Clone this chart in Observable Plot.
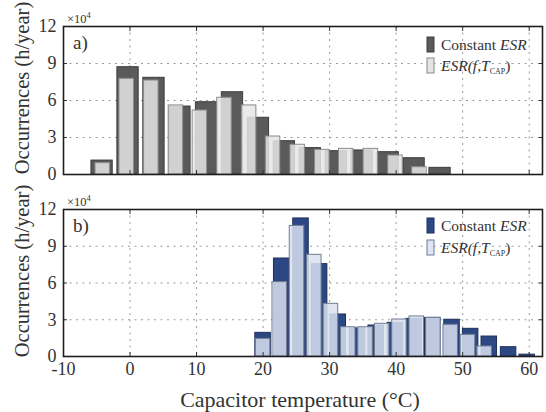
<!DOCTYPE html>
<html><head><meta charset="utf-8">
<script src="https://cdn.jsdelivr.net/npm/d3@7"></script>
<script src="https://cdn.jsdelivr.net/npm/@observablehq/plot@0.6"></script>
<style>
body{margin:0;background:#fff;}
#wrap{position:relative;width:546px;height:412px;overflow:hidden;font-family:"Liberation Serif","Times New Roman",serif;}
#wrap svg{position:absolute;left:0;}
</style></head><body><div id="wrap"></div>
<script>
// Axis ticks
const xTicks = [-10, 0, 10, 20, 30, 40, 50, 60];
const yTicks = [0, 3, 6, 9, 12];
const yGrid = [3, 6, 9];

// Panel a) — bin centres (°C) and occurrences (×10^4 h/year)
const aConstCenters = [-4.2, -0.3, 3.6, 7.5, 11.5, 15.4, 19.3, 23.2, 27.1, 31.0, 34.9, 38.8, 42.7, 46.6];
const aConstValues  = [1.13, 8.7, 7.84, 5.51, 5.86, 6.67, 4.6, 2.7, 2.14, 1.89, 1.95, 1.81, 1.32, 0.54];
const aVarCenters   = [-4.1, -0.5, 3.2, 6.9, 10.5, 14.2, 17.9, 21.5, 25.2, 28.9, 32.5, 36.2, 39.9, 43.5];
const aVarValues    = [0.92, 7.76, 7.62, 5.6, 5.19, 6.22, 5.6, 3.08, 2.41, 2.0, 2.08, 2.08, 1.54, 0.59];

// Panel b)
const bConstCenters = [20.0, 22.8, 25.7, 28.5, 31.3, 34.2, 37.0, 39.9, 42.7, 45.5, 48.4, 51.2, 54.0, 56.9, 59.7];
const bConstValues  = [1.93, 8.0, 11.27, 7.54, 3.43, 2.3, 2.53, 2.75, 3.07, 3.15, 3.0, 2.26, 1.63, 0.76, 0.15];
const bVarCenters   = [20.0, 22.5, 25.1, 27.7, 30.2, 32.8, 35.4, 37.9, 40.5, 43.1, 45.6, 48.2, 50.8, 53.3];
const bVarValues    = [1.44, 6.07, 10.66, 8.3, 4.3, 2.39, 2.39, 2.67, 3.02, 3.27, 3.16, 2.59, 1.77, 0.82];

const legendLabels = ["Constant ", "ESR", "ESR(f,T", "CAP", ")"];
const xTitle = "Capacitor temperature (°C)";
const yTitle = "Occurrences (h/year)";

const FONT = '"Liberation Serif","Times New Roman",serif';
const wrap = document.getElementById("wrap");

function panel(o) {
  const dark = o.constC.map((c, i) => ({c, v: o.constV[i]}));
  const light = o.varC.map((c, i) => ({c, v: o.varV[i]}));
  const gridStyle = {stroke: "#9a9a9a", strokeOpacity: 1, strokeWidth: 1, strokeDasharray: "2,4.5"};
  const marks = [
    Plot.gridX(xTicks.slice(1), gridStyle),
    Plot.gridY(yGrid, gridStyle),
    Plot.rectY(dark, {x1: d => d.c - o.constW / 2, x2: d => d.c + o.constW / 2, y: "v",
      fill: o.darkFill, stroke: o.darkStroke, strokeWidth: 1}),
    Plot.rectY(light, {x1: d => d.c - o.varW / 2, x2: d => d.c + o.varW / 2, y: "v",
      fill: o.lightFill, fillOpacity: 0.85, stroke: o.lightStroke, strokeWidth: 1}),
    Plot.axisY(yTicks, {anchor: "left", tickSize: 0, tickPadding: 7, fontSize: 18, label: null, fill: "#333", tickFormat: d => String(d)}),
    Plot.axisY(yGrid, {anchor: "left", tickSize: -4, tickFormat: () => "", label: null, stroke: "#333"}),
    Plot.axisY(yGrid, {anchor: "right", tickSize: -4, tickFormat: () => "", label: null, stroke: "#333"}),
    Plot.axisX(xTicks.slice(1), {anchor: "top", tickSize: -4, tickFormat: () => "", label: null, stroke: "#333"}),
    Plot.axisX(xTicks.slice(1), {anchor: "bottom", tickSize: -4, tickFormat: () => "", label: null, stroke: "#333"}),
  ];
  if (o.showX) marks.push(Plot.axisX(xTicks, {anchor: "bottom", tickSize: 0, tickPadding: 6, fontSize: 18, label: null, fill: "#333", tickFormat: d => String(d)}));
  marks.push(Plot.frame({stroke: "#1e1e1e", strokeWidth: 1.6}));
  const svg = Plot.plot({
    width: 546, height: o.height,
    marginTop: o.marginTop, marginBottom: o.marginBottom, marginLeft: 63, marginRight: 4,
    x: {domain: [-10, 62]},
    y: {domain: [0, 12]},
    style: {fontFamily: FONT, fontSize: "18px", color: "#333", background: "transparent", overflow: "visible"},
    marks
  });
  svg.style.top = o.top + "px";
  wrap.appendChild(svg);
}

panel({constC: aConstCenters, constV: aConstValues, varC: aVarCenters, varV: aVarValues,
  constW: 3.2, varW: 2.18, darkFill: "#5a5a5a", darkStroke: "#3c3c3c", lightFill: "#e6e6e6", lightStroke: "#8a8a8a",
  height: 190, marginTop: 26, marginBottom: 16, top: 0, showX: false});
panel({constC: bConstCenters, constV: bConstValues, varC: bVarCenters, varV: bVarValues,
  constW: 2.33, varW: 2.18, darkFill: "#2c4884", darkStroke: "#1d2f5a", lightFill: "#d9e2f0", lightStroke: "#6f7d92",
  height: 222, marginTop: 19, marginBottom: 56, top: 190, showX: true});

// Overlay text (titles, labels, legends)
const ov = d3.select(wrap).append("svg").attr("width", 546).attr("height", 412)
  .style("top", "0px").style("font-family", FONT).style("fill", "#333");

function panelText(top, label, sw1, sw2, darkFill, darkStroke, lightFill, lightStroke) {
  // ×10^4
  const t = ov.append("text").attr("x", 67).attr("y", top - 2.7).attr("font-size", 12.5);
  t.append("tspan").text("×10");
  t.append("tspan").attr("font-size", 8.5).attr("dy", -5.5).text("4");
  ov.append("text").attr("x", 73).attr("y", top + 23).attr("font-size", 19).text(label);
  // legend
  ov.append("rect").attr("x", 427).attr("y", top + sw1).attr("width", 7).attr("height", 15)
    .attr("fill", darkFill).attr("stroke", darkStroke);
  ov.append("rect").attr("x", 427).attr("y", top + sw2).attr("width", 7).attr("height", 15)
    .attr("fill", lightFill).attr("stroke", lightStroke);
  const l1 = ov.append("text").attr("x", 441).attr("y", top + sw1 + 13).attr("font-size", 15.5);
  l1.append("tspan").text(legendLabels[0]);
  l1.append("tspan").attr("font-style", "italic").text(legendLabels[1]);
  const l2 = ov.append("text").attr("x", 441).attr("y", top + sw2 + 13).attr("font-size", 15.5);
  l2.append("tspan").attr("font-style", "italic").text(legendLabels[2]);
  l2.append("tspan").attr("font-size", 8).attr("dy", 3).text(legendLabels[3]);
  l2.append("tspan").attr("dy", -3).text(legendLabels[4]);
  // y title
  const cy = top + 62;
  ov.append("text").attr("transform", `translate(29,${cy}) rotate(-90)`)
    .attr("text-anchor", "middle").attr("font-size", 20.5).text(yTitle);
}
panelText(26, "a)", 11, 32, "#5a5a5a", "#3c3c3c", "#e4e4e4", "#8a8a8a");
panelText(209, "b)", 9, 31, "#2c4884", "#1d2f5a", "#dde6f2", "#6f7d92");

ov.append("text").attr("x", 300).attr("y", 406.5).attr("text-anchor", "middle")
  .attr("font-size", 22).text(xTitle);
</script></body></html>
